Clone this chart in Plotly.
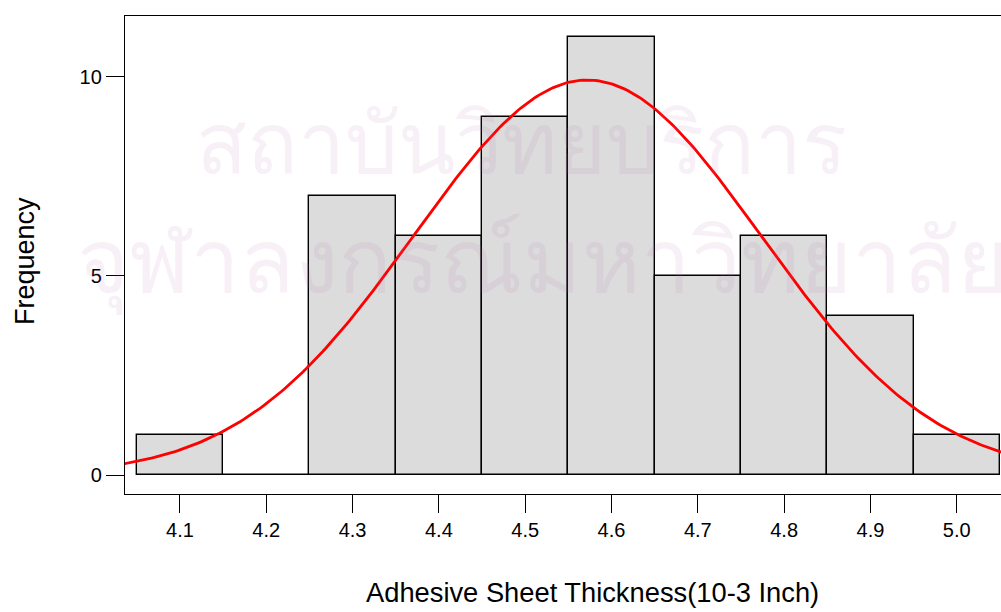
import numpy as np
import plotly.graph_objects as go

# Data
bin_centers = [4.1, 4.2, 4.3, 4.4, 4.5, 4.6, 4.7, 4.8, 4.9, 5.0]
counts = [1, 0, 7, 6, 9, 11, 5, 6, 4, 1]
bin_width = 0.1
x_tick_vals = [4.1, 4.2, 4.3, 4.4, 4.5, 4.6, 4.7, 4.8, 4.9, 5.0]
x_tick_text = ["4.1", "4.2", "4.3", "4.4", "4.5", "4.6", "4.7", "4.8", "4.9", "5.0"]
y_tick_vals = [0, 5, 10]

# Fitted normal curve from the binned data
c = np.array(bin_centers)
n = np.array(counts, dtype=float)
N = n.sum()
mu = (c * n).sum() / N
sd = np.sqrt(((c - mu) ** 2 * n).sum() / (N - 1))
xc = np.linspace(4.036, 5.06, 300)
yc = N * bin_width / (sd * np.sqrt(2 * np.pi)) * np.exp(-0.5 * ((xc - mu) / sd) ** 2)

W, H = 1001, 612
L, R, T, B = 125, 0, 16, 118
pw, ph = W - L - R, H - T - B

def px(xp):
    return (xp - L) / pw

def py(yp):
    return (H - B - yp) / ph

fig = go.Figure()
fig.add_trace(go.Bar(
    x=bin_centers, y=counts, width=bin_width,
    marker=dict(color="#dcdcdc", line=dict(color="black", width=1.4)),
    showlegend=False, hoverinfo="skip",
))
fig.add_trace(go.Scatter(
    x=xc, y=yc, mode="lines",
    line=dict(color="#ff0000", width=2.8),
    showlegend=False, hoverinfo="skip",
))

font = "Arial, Liberation Sans, sans-serif"
wm_family = "Noto Sans, DejaVu Sans, sans-serif"
wm_color = "rgba(190,110,180,0.10)"
fig.update_layout(
    width=W, height=H,
    margin=dict(l=L, r=R, t=T, b=B),
    paper_bgcolor="white", plot_bgcolor="white",
    bargap=0,
    xaxis=dict(
        range=[4.0363, 5.0513], tickvals=x_tick_vals, ticktext=x_tick_text,
        showline=True, linecolor="black", linewidth=1.4, mirror=True,
        ticks="outside", ticklen=18, tickwidth=1.4, tickcolor="black",
        showgrid=False, zeroline=False,
        tickfont=dict(family=font, size=20, color="black"),
    ),
    yaxis=dict(
        range=[-0.477, 11.53], tickvals=y_tick_vals,
        showline=True, linecolor="black", linewidth=1.4,
        ticks="outside", ticklen=18, tickwidth=1.4, tickcolor="black",
        showgrid=False, zeroline=False,
        tickfont=dict(family=font, size=20, color="black"),
    ),
    annotations=[
        dict(text="Adhesive Sheet Thickness(10-3 Inch)", xref="paper", yref="paper",
             x=px(592), y=py(592), xanchor="center", yanchor="middle", showarrow=False,
             font=dict(family=font, size=27.3, color="black")),
        dict(text="Frequency", xref="paper", yref="paper", textangle=-90,
             x=px(25), y=py(261), xanchor="center", yanchor="middle", showarrow=False,
             font=dict(family=font, size=27, color="black")),
        dict(text="สถาบันวิทยบริการ", xref="paper", yref="paper",
             x=px(521), y=py(140), xanchor="center", yanchor="middle", showarrow=False,
             font=dict(family=wm_family, size=84, color=wm_color)),
        dict(text="จุฬาลงกรณ์มหาวิทยาลัย", xref="paper", yref="paper",
             x=px(543), y=py(257), xanchor="center", yanchor="middle", showarrow=False,
             font=dict(family=wm_family, size=89, color=wm_color)),
    ],
)

fig.write_html(
    "out.html",
    config={"displayModeBar": False},
    post_script="document.body.style.margin='0';document.body.style.overflow='hidden';",
)
